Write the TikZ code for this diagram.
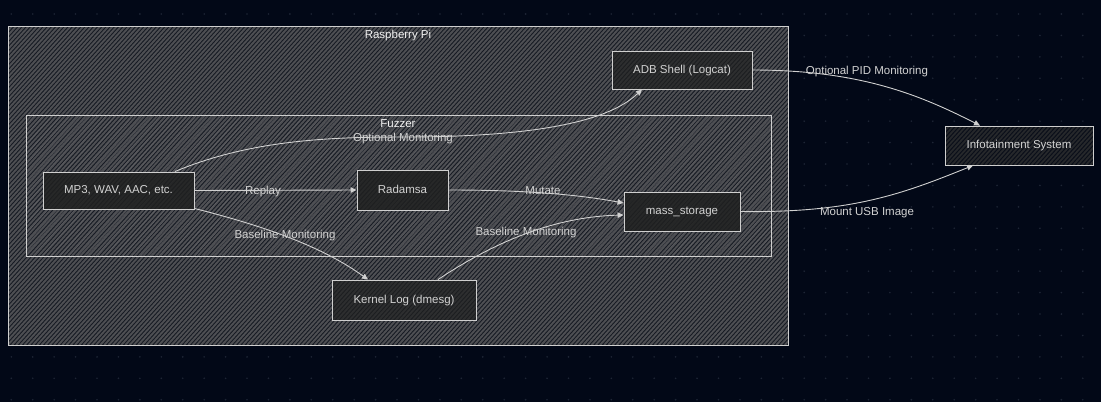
\documentclass[tikz,border=0pt]{standalone}
\usepackage{fontspec}
\setmainfont{Liberation Sans}
\usetikzlibrary{arrows.meta}
\definecolor{bgc}{HTML}{020817}
\definecolor{dotc}{HTML}{1E2535}
\definecolor{clusterbase}{HTML}{161A23}
\definecolor{hatchc}{HTML}{4E4F53}
\definecolor{infohatch}{HTML}{2A2C30}
\definecolor{framec}{HTML}{CFCFCF}
\definecolor{nodefill}{HTML}{1F2020}
\definecolor{txtc}{HTML}{D2D2D2}
\definecolor{titlec}{HTML}{F2F2F2}
\definecolor{edgec}{HTML}{D0D0D0}
\newcommand\hatchbox[6]{%
  \begin{scope}
    \clip (#1,#2) rectangle (#3,#4);
    \pgfmathsetmacro\hbH{#4-#2}
    \pgfmathsetmacro\hbA{#1-\hbH/1.1}
    \pgfmathsetmacro\hbB{\hbA+#5}
    \foreach \s in {\hbA,\hbB,...,#3} \draw[#6] (\s,#4) -- ++(\hbH/1.1,-\hbH);
  \end{scope}}
\begin{document}
\begin{tikzpicture}[x=1pt,y=-1pt,
  box/.style={draw=framec, fill=nodefill, fill opacity=0.85, text opacity=1,
    line width=0.9pt, inner sep=0pt, text=txtc, font=\fontsize{11.5}{14}\selectfont,
    text height=7pt, text depth=1pt},
  edge/.style={draw=edgec, line width=0.9pt, -{Triangle[length=6pt,width=5.5pt]}},
  lbl/.style={text=txtc, font=\fontsize{11.5}{14}\selectfont, inner sep=0pt, anchor=base, yshift=-4.2pt},
  ttl/.style={text=titlec, font=\fontsize{11.5}{14}\selectfont, inner sep=0pt, anchor=base, yshift=-4.2pt},
  frame/.style={draw=framec, line width=0.9pt}]
\useasboundingbox (0,0) rectangle (1101,402);
\fill[bgc] (0,0) rectangle (1101,402);
% dot grid
\foreach \i in {0,...,51} \foreach \j in {0,...,18}
  \fill[dotc] (11.3+\i*21.43, 14+\j*21.43) circle (0.9);
% Raspberry Pi cluster
\fill[clusterbase] (8,26) rectangle (788,345);
\hatchbox{8}{26}{788}{345}{4.2}{hatchc, line width=1.9pt}
\draw[frame] (8,26) rectangle (788,345);
\node[ttl] (rpi) at (398,34) {Raspberry Pi};
% Fuzzer cluster
\hatchbox{26}{115}{771}{256}{9}{hatchc!85!white, line width=0.7pt, opacity=0.6}
\draw[frame] (26,115) rectangle (771,256);
\node[ttl] (fuz) at (398,123) {Fuzzer};
% Infotainment hatch
\fill[bgc] (945,126) rectangle (1093,165);
\hatchbox{945}{126}{1093}{165}{4.2}{infohatch, line width=1.8pt}
% nodes
\node[box, minimum width=151pt, minimum height=37pt] (mp3) at (118.5,190.5) {MP3, WAV, AAC, etc.};
\node[box, minimum width=91pt, minimum height=40pt] (rad) at (402.5,190) {Radamsa};
\node[box, minimum width=116pt, minimum height=39pt] (mass) at (682,211.5) {mass\_storage};
\node[box, fill opacity=0.7, minimum width=144pt, minimum height=40pt] (kern) at (404,300) {Kernel Log (dmesg)};
\node[box, fill opacity=0.7, minimum width=140pt, minimum height=38pt] (adb) at (682,70) {ADB Shell (Logcat)};
\node[box, fill opacity=0.3, minimum width=148pt, minimum height=39pt] (info) at (1019,145.5) {Infotainment System};
% edges
\draw[edge] ([xshift=-19.5pt]mp3.north east) .. controls (250,140) and (330,137) .. (403,137)
  .. controls (560,137) and (615,115) .. ([xshift=-40pt]adb.south);
\node[lbl] (l1) at (403,137) {Optional Monitoring};
\draw[edge] (mp3.east) -- (rad.west);
\node[lbl] (l2) at (263,190) {Replay};
\draw[edge] ([yshift=1pt]mp3.south east) .. controls (260,225) and (320,245) .. ([xshift=-36pt]kern.north);
\node[lbl] (l3) at (285,234) {Baseline Monitoring};
\draw[edge] (rad.east) .. controls (530,190) and (580,195) .. ([yshift=8.5pt]mass.west);
\node[lbl] (l4) at (543,190) {Mutate};
\draw[edge] ([xshift=34pt]kern.north) .. controls (490,245) and (550,217) .. ([yshift=-3.5pt]mass.west);
\node[lbl] (l5) at (526,231) {Baseline Monitoring};
\draw[edge] (adb.east) .. controls (860,70) and (920,95) .. ([xshift=-39pt]info.north);
\node[lbl] (l6) at (867,70) {Optional PID Monitoring};
\draw[edge] (mass.east) .. controls (850,213) and (900,195) .. ([xshift=-46pt]info.south);
\node[lbl] (l7) at (867,211) {Mount USB Image};
\end{tikzpicture}
\end{document}
